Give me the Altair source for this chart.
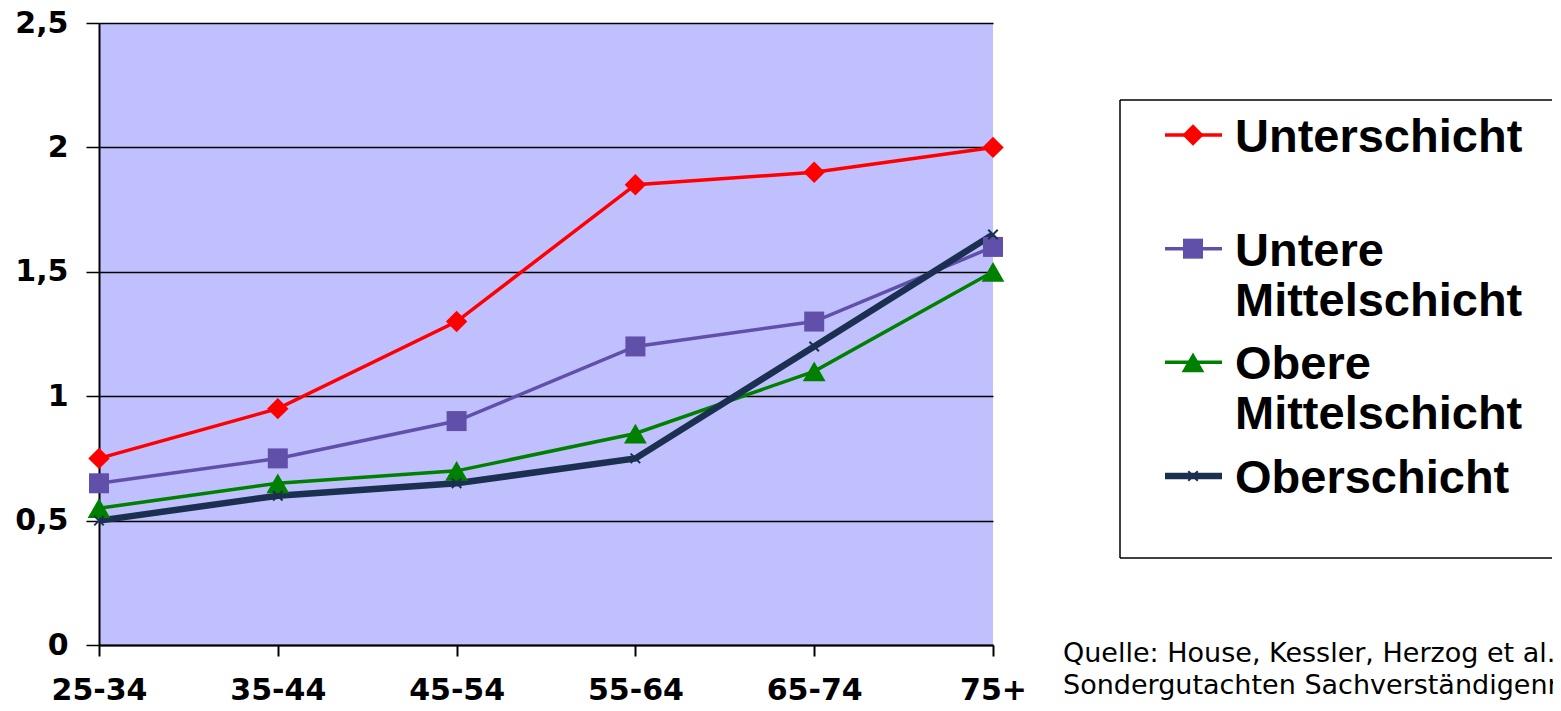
import altair as alt
import pandas as pd

# ---------------- data ----------------
categories = ["25-34", "35-44", "45-54", "55-64", "65-74", "75+"]
series_names = ["Unterschicht", "Untere Mittelschicht", "Obere Mittelschicht", "Oberschicht"]
unterschicht = [0.75, 0.95, 1.30, 1.85, 1.90, 2.00]
untere_mittelschicht = [0.65, 0.75, 0.90, 1.20, 1.30, 1.60]
obere_mittelschicht = [0.55, 0.65, 0.70, 0.85, 1.10, 1.50]
oberschicht = [0.50, 0.60, 0.65, 0.75, 1.20, 1.65]
y_ticks = [0, 0.5, 1, 1.5, 2, 2.5]

legend_line1 = ["Unterschicht", "Untere", "Obere", "Oberschicht"]
legend_line2 = ["", "Mittelschicht", "Mittelschicht", ""]
source_lines = ["Quelle: House, Kessler, Herzog et al.",
                "Sondergutachten Sachverständigenrat"]

# ---------------- styles ----------------
colors = ["#FF0000", "#6150AA", "#008000", "#1B2F50"]
widths = [3.5, 3.5, 3.5, 6.5]
shapes = ["diamond", "square", "triangle-up", "M-1,-1L1,1M1,-1L-1,1"]
sizes = [460, 400, 520, 90]

all_values = [unterschicht, untere_mittelschicht, obere_mittelschicht, oberschicht]
rows = []
for s, vals in zip(series_names, all_values):
    for c, v in zip(categories, vals):
        rows.append({"Altersgruppe": c, "Serie": s, "Wert": v})
df = pd.DataFrame(rows)

df_leg = pd.DataFrame({
    "Serie": series_names,
    "idx": list(range(len(series_names))),
    "line1": legend_line1,
    "line2": legend_line2,
})
df_one = pd.DataFrame({"text": ["\n".join(source_lines)]})

x_enc = alt.X(
    "Altersgruppe:N", sort=categories,
    scale=alt.Scale(type="point", padding=0),
    axis=alt.Axis(title=None, labelAngle=0, labelFont="DejaVu Sans",
                  labelFontWeight="bold", labelFontSize=30, labelColor="black",
                  tickSize=11, tickColor="black", tickWidth=2,
                  domainColor="black", domainWidth=2, labelPadding=19, grid=False),
)
y_enc = alt.Y(
    "Wert:Q",
    scale=alt.Scale(domain=[0, 2.5], nice=False),
    axis=alt.Axis(title=None, values=y_ticks, orient="left",
                  labelExpr="replace(format(datum.value, '.1~f'), '.', ',')",
                  labelFont="DejaVu Sans", labelFontWeight="bold",
                  labelFontSize=30, labelColor="black",
                  grid=True, gridColor="black", gridWidth=1.5,
                  tickSize=13, tickColor="black", tickWidth=1.5,
                  domainColor="black", domainWidth=2, labelPadding=18),
)

base = alt.Chart(df)
main_layers = []
for i, s in enumerate(series_names):
    sub = base.transform_filter(alt.datum.Serie == s)
    main_layers.append(
        sub.mark_line(color=colors[i], strokeWidth=widths[i]).encode(x=x_enc, y=y_enc))
for i, s in enumerate(series_names):
    filled = i < 3
    sub = base.transform_filter(alt.datum.Serie == s)
    main_layers.append(sub.mark_point(
        shape=shapes[i], size=sizes[i], filled=filled, opacity=1,
        strokeWidth=(0 if filled else 2), color=colors[i],
    ).encode(x=x_enc, y=y_enc))
main = alt.layer(*main_layers)

# ---------------- legend ----------------
leg = alt.Chart(df_leg)
ly = alt.Y("idx:Q", scale=alt.Scale(domain=[0, 3], range=[112, 453]), axis=None)

one = alt.Chart(df_one)
box_right = 1453
leg_layers = [
    one.mark_rect(fill="white", strokeWidth=0).encode(
        x=alt.value(1021), x2=alt.value(box_right), y=alt.value(77), y2=alt.value(535)),
    one.mark_rule(color="black", strokeWidth=1.5).encode(
        x=alt.value(1021), x2=alt.value(box_right), y=alt.value(77)),
    one.mark_rule(color="black", strokeWidth=1.5).encode(
        x=alt.value(1021), x2=alt.value(box_right), y=alt.value(535)),
    one.mark_rule(color="black", strokeWidth=1.5).encode(
        x=alt.value(1021), y=alt.value(77), y2=alt.value(535)),
]
for i, s in enumerate(series_names):
    sub = leg.transform_filter(alt.datum.Serie == s)
    leg_layers.append(sub.mark_rule(color=colors[i], strokeWidth=widths[i]).encode(
        x=alt.value(1066), x2=alt.value(1123), y=ly))
for i, s in enumerate(series_names):
    filled = i < 3
    sub = leg.transform_filter(alt.datum.Serie == s)
    leg_layers.append(sub.mark_point(
        shape=shapes[i], size=sizes[i], filled=filled, opacity=1,
        strokeWidth=(0 if filled else 2), color=colors[i],
    ).encode(x=alt.value(1094), y=ly))

txt_style = dict(align="left", baseline="middle", font="Liberation Sans",
                 fontWeight="bold", fontSize=47, color="black")
leg_layers.append(leg.mark_text(dy=3, **txt_style).encode(x=alt.value(1136), y=ly, text="line1:N"))
leg_layers.append(leg.mark_text(dy=53, **txt_style).encode(x=alt.value(1136), y=ly, text="line2:N"))

leg_layers.append(one.mark_text(
    align="left", baseline="alphabetic", font="DejaVu Sans", fontSize=27,
    lineHeight=32, lineBreak="\n", color="black",
).encode(x=alt.value(964), y=alt.value(639), text="text:N"))

legend = alt.layer(*leg_layers)

chart = alt.layer(main, legend).resolve_scale(y="independent").properties(
    width=894, height=622,
    autosize=alt.AutoSizeParams(type="none"),
    padding={"left": 91, "top": 15, "right": 560, "bottom": 58},
    background="white",
).configure_view(fill="#C0C0FF", strokeWidth=0)

chart.save("out.html", embed_options={"renderer": "svg", "actions": False})
